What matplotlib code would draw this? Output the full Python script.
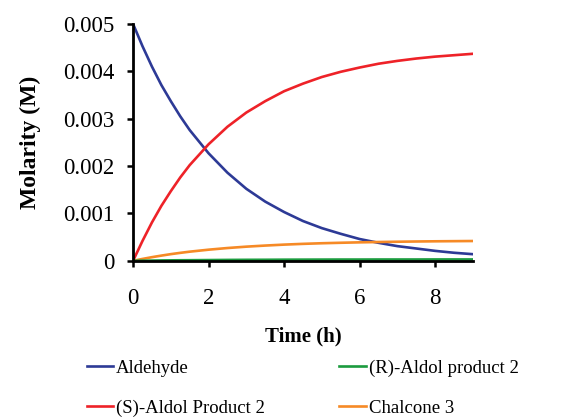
import numpy as np
import matplotlib
matplotlib.use('Agg')
import matplotlib.pyplot as plt

plt.rcParams['font.family'] = ['Liberation Serif', 'DejaVu Serif']

# time (h) and molarity (M)
time_h = [0, 0.25, 0.5, 0.75, 1, 1.25, 1.5, 2, 2.5, 3, 3.5, 4, 4.5, 5, 5.5, 6, 6.5,
          7, 7.5, 8, 8.5, 9]

aldehyde = [0.00500, 0.00453, 0.00410, 0.00371, 0.00337, 0.00305, 0.00276, 0.00227,
            0.00186, 0.00152, 0.00125, 0.00103, 0.00084, 0.00069, 0.00057, 0.00046,
            0.00038, 0.00031, 0.00026, 0.00021, 0.00017, 0.00014]
s_aldol = [0, 0.00042, 0.00081, 0.00116, 0.00147, 0.00176, 0.00202, 0.00246, 0.00283,
           0.00313, 0.00337, 0.00358, 0.00374, 0.00388, 0.00399, 0.00408, 0.00416,
           0.00422, 0.00427, 0.00431, 0.00434, 0.00437]
r_aldol = [0, 0.000003, 0.000005, 0.000008, 0.00001, 0.000012, 0.000013, 0.000016,
           0.000019, 0.000021, 0.000022, 0.000024, 0.000025, 0.000026, 0.000027,
           0.000027, 0.000028, 0.000028, 0.000028, 0.000029, 0.000029, 0.000029]
chalcone = [0, 0.00004, 0.000077, 0.00011, 0.000141, 0.000168, 0.000193, 0.000235,
            0.00027, 0.000299, 0.000322, 0.000342, 0.000358, 0.000371, 0.000381,
            0.00039, 0.000397, 0.000403, 0.000408, 0.000412, 0.000415, 0.000418]

x_ticks = [0, 2, 4, 6, 8]
y_ticks = [0, 0.001, 0.002, 0.003, 0.004, 0.005]
y_tick_labels = ['0', '0.001', '0.002', '0.003', '0.004', '0.005']

fig = plt.figure(figsize=(5.76, 4.2), dpi=100)
ax = fig.add_axes([0.231, 0.379, 0.590, 0.564])

lw = 1.9
l_a, = ax.plot(time_h, aldehyde, color='#2D3A96', lw=lw, label='Aldehyde')
l_s, = ax.plot(time_h, s_aldol, color='#EE2228', lw=lw, label='(S)-Aldol Product 2')
l_c, = ax.plot(time_h, chalcone, color='#F68A26', lw=lw, label='Chalcone 3')
l_r, = ax.plot(time_h, r_aldol, color='#1B9B3E', lw=lw, label='(R)-Aldol product 2')

ax.set_xlim(0, 9)
ax.set_ylim(0, 0.005)
ax.set_xticks(x_ticks)
ax.set_yticks(y_ticks)
ax.set_yticklabels(y_tick_labels)
ax.tick_params(labelsize=16.5, width=1.8, length=4.5, direction='out', color='black')
ax.tick_params(axis='x', pad=15)
ax.tick_params(axis='y', pad=9)

for side in ['top', 'right']:
    ax.spines[side].set_visible(False)
for side in ['left', 'bottom']:
    ax.spines[side].set_linewidth(2)
    ax.spines[side].set_color('black')

ax.set_xlabel('Time (h)', fontsize=15, fontweight='bold', labelpad=13)
ax.set_ylabel('Molarity (M)', fontsize=17, fontweight='bold', labelpad=16)

fig.legend(handles=[l_a, l_s, l_r, l_c], loc='upper left', bbox_to_anchor=(0.134, 0.166),
           ncol=2, frameon=False, fontsize=13.5, handlelength=1.4, handletextpad=0.15,
           columnspacing=4.0, labelspacing=1.2, borderpad=0)

fig.savefig('out.png', dpi=100)
